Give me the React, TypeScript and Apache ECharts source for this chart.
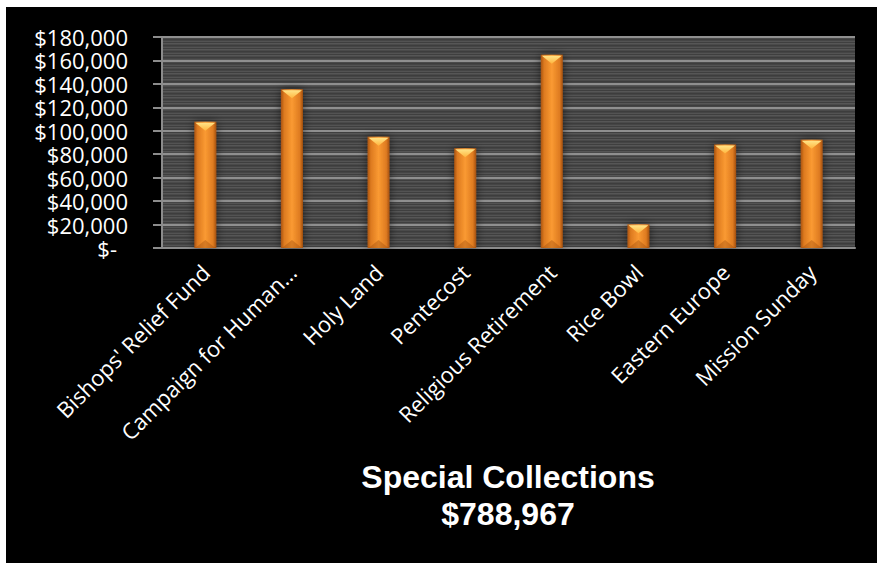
import React, { useEffect, useRef } from "react";
import * as echarts from "echarts";

const categories = [
  "Bishops' Relief Fund",
  "Campaign for Human…",
  "Holy Land",
  "Pentecost",
  "Religious Retirement",
  "Rice Bowl",
  "Eastern Europe",
  "Mission Sunday",
];
const amounts = [107700, 135400, 95000, 85100, 164900, 20200, 88300, 92367];
const yMin = 0;
const yMax = 180000;
const yStep = 20000;
const titleLines = ["Special Collections", "$788,967"];

const LABEL_FONT = "'Open Sans', 'Noto Sans', sans-serif";
const TITLE_FONT = "'Liberation Sans', Arial, sans-serif";

function makeStripes(): HTMLCanvasElement {
  const c = document.createElement("canvas");
  c.width = 8;
  c.height = 6;
  const ctx = c.getContext("2d")!;
  const rows = ["#565656", "#4a4a4a", "#3d3d3d", "#454545", "#535353", "#3f3f3f"];
  rows.forEach((col, i) => {
    ctx.fillStyle = col;
    ctx.fillRect(0, i, 8, 1);
  });
  return c;
}

export default function App() {
  const ref = useRef<HTMLDivElement>(null);
  useEffect(() => {
    if (!ref.current) return;
    const chart = echarts.init(ref.current, undefined, { renderer: "svg" });
    const stripes = makeStripes();
    const barGradient = new echarts.graphic.LinearGradient(0, 0, 1, 0, [
      { offset: 0, color: "#a9530f" },
      { offset: 0.15, color: "#dd7a20" },
      { offset: 0.5, color: "#fa9a32" },
      { offset: 0.85, color: "#de7b21" },
      { offset: 1, color: "#a24f0e" },
    ]);
    const capGradient = new echarts.graphic.LinearGradient(0, 0, 0, 1, [
      { offset: 0, color: "#ffe488" },
      { offset: 1, color: "#ffb53e" },
    ]);
    chart.setOption({
      animation: false,
      backgroundColor: "#000000",
      grid: {
        left: 156,
        right: 22,
        top: 30,
        bottom: 315,
        show: true,
        borderWidth: 0,
        backgroundColor: { image: stripes, repeat: "repeat" },
      },
      xAxis: {
        type: "category",
        data: categories,
        axisLine: { show: true, lineStyle: { color: "#8c8c8c", width: 2 } },
        axisTick: { show: false },
        axisLabel: {
          rotate: 45,
          interval: 0,
          margin: 20,
          color: "#ffffff",
          fontFamily: LABEL_FONT,
          fontSize: 22,
        },
      },
      yAxis: {
        type: "value",
        min: yMin,
        max: yMax,
        interval: yStep,
        axisLine: { show: true, lineStyle: { color: "#8c8c8c", width: 2 } },
        axisTick: { show: true, length: 9, lineStyle: { color: "#8c8c8c", width: 2 } },
        splitLine: { show: true, lineStyle: { color: "#8f8f8f", width: 2 } },
        axisLabel: {
          margin: 34,
          color: "#ffffff",
          fontFamily: LABEL_FONT,
          fontSize: 22,
          lineHeight: 20,
          formatter: (v: number) =>
            v === 0 ? "{z|$-}" : "$" + v.toLocaleString("en-US"),
          rich: {
            z: {
              color: "#ffffff",
              fontFamily: LABEL_FONT,
              fontSize: 22,
              lineHeight: 20,
              padding: [0, 11, 0, 0],
            },
          },
        },
      },
      series: [
        {
          type: "bar",
          data: amounts,
          barWidth: 22,
          itemStyle: {
            color: barGradient,
            shadowBlur: 10,
            shadowColor: "rgba(0,0,0,0.55)",
          },
          z: 2,
        },
        {
          type: "pictorialBar",
          data: amounts,
          barWidth: 22,
          symbol: "path://M0,0 L20,0 L10,8 Z",
          symbolSize: [20, 8],
          symbolPosition: "end",
          symbolOffset: [0, 1],
          itemStyle: { color: capGradient },
          z: 3,
        },
        {
          type: "pictorialBar",
          data: amounts,
          barWidth: 22,
          symbol: "path://M0,8 L20,8 L10,0 Z",
          symbolSize: [20, 8],
          symbolPosition: "start",
          itemStyle: { color: "rgba(150,70,10,0.35)" },
          z: 3,
        },
      ],
      graphic: [
        {
          type: "text",
          x: 502,
          y: 470,
          style: {
            text: titleLines[0],
            fill: "#ffffff",
            font: `bold 32px ${TITLE_FONT}`,
            textAlign: "center",
            textVerticalAlign: "middle",
          },
        },
        {
          type: "text",
          x: 502,
          y: 507,
          style: {
            text: titleLines[1],
            fill: "#ffffff",
            font: `bold 32px ${TITLE_FONT}`,
            textAlign: "center",
            textVerticalAlign: "middle",
          },
        },
      ],
    });
    return () => chart.dispose();
  }, []);
  return (
    <div
      style={{
        position: "absolute",
        left: 0,
        top: 0,
        width: 877,
        height: 563,
        background: "#ffffff",
      }}
    >
      <div
        ref={ref}
        style={{ position: "absolute", left: 6, top: 7, width: 871, height: 556 }}
      />
    </div>
  );
}
